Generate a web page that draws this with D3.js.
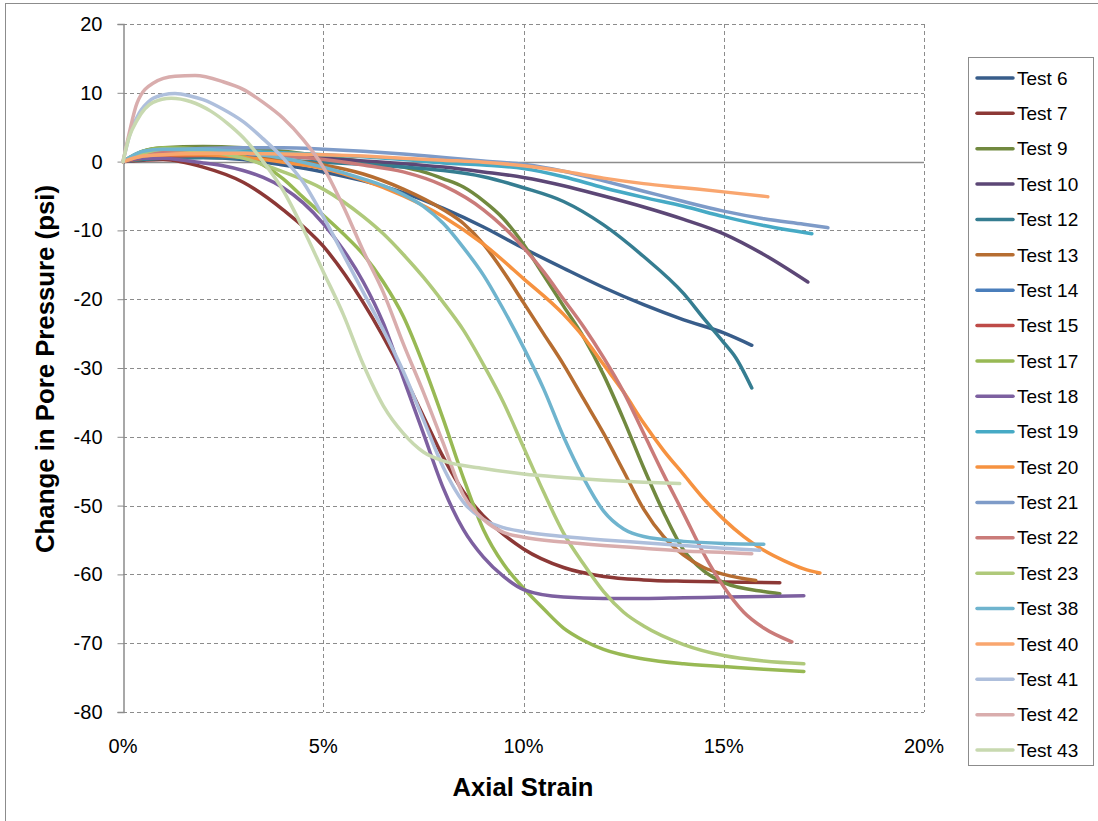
<!DOCTYPE html>
<html lang="en">
<head>
<meta charset="utf-8">
<title>Change in Pore Pressure vs Axial Strain</title>
<script src="https://cdn.jsdelivr.net/npm/d3@7"></script>
<style>
  body { margin: 0; background: #fff; }
  text { font-family: "Liberation Sans", Arial, sans-serif; fill: #000; }
  .grid line { stroke: #8c8c8c; stroke-width: 1; stroke-dasharray: 4,3; }
  .series path { fill: none; stroke-width: 3.5; stroke-linecap: round; stroke-linejoin: round; }
</style>
</head>
<body>
<svg width="1098" height="821"></svg>
<script>
// series names, in legend order
var names = ["Test 6", "Test 7", "Test 9", "Test 10", "Test 12", "Test 13", "Test 14",
  "Test 15", "Test 17", "Test 18", "Test 19", "Test 20", "Test 21", "Test 22",
  "Test 23", "Test 38", "Test 40", "Test 41", "Test 42", "Test 43"];

// [axial strain %, change in pore pressure psi]
var test6  = [[0,0],[1,0.5],[2,0.6],[3,0.3],[4,-0.5],[5,-1.5],[6,-2.8],[7,-4.5],[8,-6.8],[9,-9.5],[10,-12.6],[11,-15.5],[12,-18.3],[13,-20.8],[14,-23],[15,-24.9],[15.7,-26.7]];
var test7  = [[0,0],[1,0.3],[2,-0.8],[3,-3],[4,-7],[5,-12.3],[6,-20.5],[7,-31],[7.5,-37],[8,-43],[8.5,-48],[9,-51.5],[10,-56.3],[11,-59],[12,-60.3],[13,-60.8],[14,-61],[15,-61.1],[16.4,-61.2]];
var test9  = [[0,0],[0.5,1.5],[1,2],[2,2.2],[3,2],[4,1.5],[5,0.8],[6,0],[7,-0.8],[7.5,-1.5],[8,-2.5],[8.5,-3.7],[9,-5.7],[9.5,-8.3],[10,-12],[10.5,-16.5],[11,-21],[11.5,-25.5],[12,-31],[12.5,-37.5],[13,-44.5],[13.5,-51],[14,-56.5],[14.5,-59.5],[15,-61.2],[16,-62.5],[16.4,-62.8]];
var test10 = [[0,0],[1,0.8],[2,1],[3,1],[4,0.8],[5,0.5],[6,0.1],[7,-0.3],[8,-0.8],[9,-1.5],[10,-2.3],[11,-3.5],[12,-5],[13,-6.6],[14,-8.4],[15,-10.5],[16,-13.5],[17.1,-17.5]];
var test12 = [[0,0],[1,0.5],[2,0.6],[3,0.5],[4,0.2],[5,-0.1],[6,-0.4],[7,-0.8],[8,-1.3],[9,-2.2],[10,-3.8],[11,-5.8],[12,-9.2],[13,-13.8],[14,-19.2],[14.5,-22.8],[15,-26.3],[15.3,-28.5],[15.7,-32.9]];
var test13 = [[0,0],[1,0.8],[2,1],[3,0.8],[4,0.3],[5,-0.5],[6,-1.8],[7,-4],[8,-7],[8.5,-9],[9,-12],[9.5,-16],[10,-20.5],[10.5,-25],[11,-29.5],[11.5,-34.5],[12,-39.5],[12.5,-45],[13,-50.5],[13.5,-54.5],[14,-57.2],[14.5,-59],[15,-60],[15.8,-60.9]];
var test14 = [[0,0],[0.5,0.8],[1,1],[2,1.1],[3,1],[4,0.9]];
var test15 = [[0,0],[0.5,0.6],[1,0.8],[2,0.9],[3,0.8]];
var test17 = [[0,0],[0.5,1.5],[1,2],[2,1.8],[3,0.8],[3.5,-0.5],[4,-2.5],[4.5,-5.2],[5,-7.8],[5.5,-10.5],[6,-13.5],[6.5,-17.5],[7,-22.5],[7.5,-29.5],[8,-37.5],[8.5,-46],[9,-53.5],[9.5,-58.5],[10,-62],[10.5,-65],[11,-67.8],[11.5,-69.6],[12,-70.9],[13,-72.3],[14,-73],[15,-73.4],[16,-73.8],[17,-74.1]];
var test18 = [[0,0],[0.5,0.5],[1,0.5],[1.5,0.2],[2,-0.2],[2.5,-0.6],[3,-1.3],[3.5,-2.3],[4,-3.8],[4.5,-6],[5,-9],[5.5,-12.8],[6,-17.5],[6.5,-23.5],[7,-31.5],[7.5,-39.5],[8,-47.5],[8.5,-53.5],[9,-57.5],[9.5,-60.3],[10,-62.2],[11,-63.3],[12,-63.5],[13,-63.5],[14,-63.4],[15,-63.3],[16,-63.2],[17,-63.1]];
var test19 = [[0,0],[0.5,1.2],[1,1.5],[2,1.6],[3,1.5],[4,1.3],[5,1],[6,0.7],[7,0.3],[8,-0.2],[9,-0.5],[10,-1],[11,-2.2],[12,-3.8],[13,-5.2],[14,-6.5],[15,-8],[16,-9.3],[17.2,-10.5]];
var test20 = [[0,0],[0.5,0.8],[1,1],[2,1],[3,0.6],[4,-0.1],[5,-1],[6,-2.7],[7,-5],[8,-8],[9,-12],[10,-17],[11,-22.2],[11.5,-25.5],[12,-29.5],[12.5,-33.5],[13,-38],[13.5,-42],[14,-45.5],[14.5,-49],[15,-52],[15.5,-54.5],[16,-56.5],[16.5,-58],[17,-59.2],[17.4,-59.8]];
var test21 = [[0,0],[0.5,1.2],[1,1.6],[2,1.9],[3,2],[4,2],[5,1.8],[6,1.5],[7,1.1],[8,0.6],[9,0.1],[10,-0.4],[11,-1.4],[12,-2.8],[13,-4.3],[14,-5.8],[15,-7.2],[16,-8.3],[17,-9.1],[17.6,-9.6]];
var test22 = [[0,0],[0.5,1.2],[1,1.5],[2,1.5],[3,1.2],[4,0.8],[5,0.3],[6,-0.5],[7,-1.5],[8,-3.5],[9,-7],[9.5,-9.5],[10,-12.5],[10.5,-16],[11,-20],[11.5,-24],[12,-28.5],[12.5,-33.5],[13,-39.5],[13.5,-45.5],[14,-51.2],[14.5,-57],[15,-61.8],[15.5,-65.5],[16,-67.8],[16.7,-69.8]];
var test23 = [[0,0],[0.5,1.2],[1,1.8],[2,1.5],[3,0.5],[4,-1.5],[5,-4],[6,-8],[6.5,-10.5],[7,-13.5],[7.5,-16.8],[8,-20.5],[8.5,-24.5],[9,-29.5],[9.5,-35],[10,-41.5],[10.5,-48],[11,-54],[11.5,-58.5],[12,-62.5],[12.5,-65.5],[13,-67.5],[14,-70.2],[15,-71.8],[16,-72.6],[17,-73]];
var test38 = [[0,0],[0.5,1.5],[1,1.8],[2,1.8],[3,1.3],[4,0.5],[5,-0.8],[6,-2.5],[6.5,-3.5],[7,-4.8],[7.5,-6.5],[8,-9],[8.5,-12.5],[9,-16.5],[9.5,-21.5],[10,-27],[10.5,-33],[11,-40],[11.5,-46],[12,-50.8],[12.5,-53.4],[13,-54.5],[14,-55.2],[15,-55.5],[16,-55.6]];
var test40 = [[0,0],[0.5,0.8],[1,1],[2,1.2],[3,1.2],[4,1.1],[5,1],[6,0.8],[7,0.5],[8,0.2],[9,-0.1],[10,-0.6],[11,-1.4],[12,-2.4],[13,-3.2],[14,-3.8],[15,-4.4],[16.1,-5.1]];
var test41 = [[0,0],[0.2,4.5],[0.4,7],[0.7,9],[1,9.7],[1.3,9.9],[1.7,9.5],[2,9],[2.5,7.6],[3,5.8],[3.5,3.3],[4,0.5],[4.5,-3],[5,-8],[5.5,-13.5],[6,-19],[6.5,-24.5],[7,-30.5],[7.5,-37.5],[8,-44.5],[8.5,-49.5],[9,-52],[9.5,-53.2],[10,-53.8],[11,-54.5],[12,-55],[13,-55.4],[14,-55.8],[15,-56.2],[15.9,-56.5]];
var test42 = [[0,0],[0.15,4],[0.35,8.5],[0.75,11.4],[1.3,12.4],[1.8,12.5],[2.5,11.6],[3,10.5],[3.5,8.6],[4,6.3],[4.5,3.2],[5,-0.8],[5.5,-6.5],[6,-13],[6.5,-19],[7,-26.5],[7.5,-33.5],[8,-41],[8.5,-48.5],[9,-52],[9.5,-53.9],[10,-54.6],[11,-55.3],[12,-55.8],[13,-56.2],[14,-56.6],[15,-56.8],[15.7,-57]];
var test43 = [[0,0],[0.15,3.5],[0.35,6],[0.75,8.6],[1.2,9.2],[1.7,8.7],[2.2,7.3],[2.6,5.6],[3,3.5],[3.5,0],[4,-4.2],[4.5,-9.8],[5,-16],[5.5,-22.2],[6,-29.5],[6.5,-35.5],[7,-39.5],[7.5,-42.2],[8,-43.5],[9,-44.6],[10,-45.4],[11,-45.9],[12,-46.3],[13,-46.6],[13.9,-46.8]];

var values = [test6, test7, test9, test10, test12, test13, test14, test15, test17, test18,
  test19, test20, test21, test22, test23, test38, test40, test41, test42, test43];

var colors = ["#385d8a", "#8c3836", "#71893f", "#5c4776", "#357d91", "#b66d31", "#4a7ebb",
  "#be4b48", "#98b954", "#7d60a0", "#46aac5", "#f69240", "#7e9bc8", "#ca7b79",
  "#afc97a", "#6fb4ce", "#f9a66f", "#aebfdc", "#d9adad", "#c8d9b0"];

var xTicks = [0, 5, 10, 15, 20];
var yTicks = [20, 10, 0, -10, -20, -30, -40, -50, -60, -70, -80];

var svg = d3.select("svg");

// outer chart border
svg.append("rect")
  .attr("x", 5.5).attr("y", 3.5)
  .attr("width", 1110).attr("height", 840)
  .attr("fill", "none").attr("stroke", "#8c8c8c").attr("stroke-width", 1);

var x = d3.scaleLinear().domain([0, 20]).range([123, 924]);
var y = d3.scaleLinear().domain([-80, 20]).range([712, 24]);

// dashed gridlines
var grid = svg.append("g").attr("class", "grid");
grid.selectAll(".h")
  .data(yTicks.filter(function(d) { return d !== 0; }))
  .enter().append("line")
  .attr("x1", x(0)).attr("x2", x(20))
  .attr("y1", function(d) { return Math.round(y(d)) + 0.5; })
  .attr("y2", function(d) { return Math.round(y(d)) + 0.5; });
grid.selectAll(".v")
  .data(xTicks.slice(1))
  .enter().append("line")
  .attr("y1", y(20)).attr("y2", y(-80))
  .attr("x1", function(d) { return Math.round(x(d)) + 0.5; })
  .attr("x2", function(d) { return Math.round(x(d)) + 0.5; });

// zero line (horizontal axis)
svg.append("line")
  .attr("x1", x(0)).attr("x2", x(20))
  .attr("y1", Math.round(y(0)) + 0.5).attr("y2", Math.round(y(0)) + 0.5)
  .attr("stroke", "#8c8c8c").attr("stroke-width", 1.5);

// vertical axis with outside ticks
var yAxis = svg.append("g")
  .attr("transform", "translate(" + (x(0) + 0.5) + ",0)")
  .call(d3.axisLeft(y).tickValues(yTicks).tickSize(6).tickPadding(15)
    .tickFormat(d3.format("d")));
yAxis.select(".domain").attr("stroke", "#8c8c8c").attr("stroke-width", 1.5);
yAxis.selectAll(".tick line").attr("stroke", "#8c8c8c");
yAxis.selectAll(".tick text")
  .style("font-family", '"Liberation Sans", Arial, sans-serif')
  .style("font-size", "20px").attr("fill", "#000")
  .text(function(d) { return d < 0 ? "-" + Math.abs(d) : d; });

// x tick labels (axis crosses at 0, labels sit at the bottom)
svg.append("g").selectAll("text")
  .data(xTicks)
  .enter().append("text")
  .attr("x", function(d) { return x(d); })
  .attr("y", 753)
  .attr("text-anchor", "middle")
  .style("font-size", "20px")
  .text(function(d) { return d + "%"; });

// axis titles
svg.append("text")
  .attr("x", 523).attr("y", 796)
  .attr("text-anchor", "middle")
  .attr("textLength", 141).attr("lengthAdjust", "spacingAndGlyphs")
  .style("font-size", "26px").style("font-weight", "bold")
  .text("Axial Strain");

svg.append("text")
  .attr("transform", "translate(54,369) rotate(-90)")
  .attr("text-anchor", "middle")
  .attr("textLength", 368).attr("lengthAdjust", "spacingAndGlyphs")
  .style("font-size", "26px").style("font-weight", "bold")
  .text("Change in Pore Pressure (psi)");

// series lines
var line = d3.line()
  .x(function(d) { return x(d[0]); })
  .y(function(d) { return y(d[1]); })
  .curve(d3.curveMonotoneX);

svg.append("g").attr("class", "series")
  .selectAll("path")
  .data(values)
  .enter().append("path")
  .attr("stroke", function(d, i) { return colors[i]; })
  .attr("d", line);

// legend
var legend = svg.append("g");
legend.append("rect")
  .attr("x", 968.5).attr("y", 57.5)
  .attr("width", 125).attr("height", 708)
  .attr("fill", "#fff").attr("stroke", "#8c8c8c");

var item = legend.selectAll(".item")
  .data(names)
  .enter().append("g")
  .attr("transform", function(d, i) { return "translate(0," + (78 + i * 35.37) + ")"; });
item.append("line")
  .attr("x1", 977).attr("x2", 1013)
  .attr("stroke", function(d, i) { return colors[i]; })
  .attr("stroke-width", 3.5).attr("stroke-linecap", "round");
item.append("text")
  .attr("x", 1017).attr("dy", "0.35em")
  .style("font-size", "19px")
  .text(function(d) { return d; });
</script>
</body>
</html>
